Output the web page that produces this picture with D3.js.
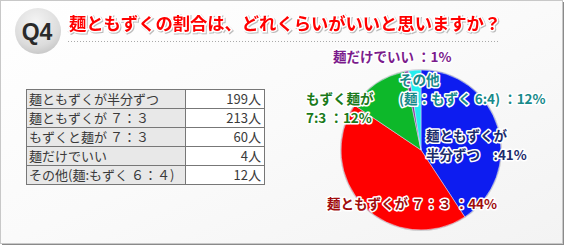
<!DOCTYPE html>
<html>
<head>
<meta charset="utf-8">
<script src="https://cdn.jsdelivr.net/npm/d3@7"></script>
<style>
  body { margin: 0; background: #fff; }
  svg { display: block; }
  .jp { font-family: "Noto Sans CJK JP", "Noto Sans", sans-serif; }
</style>
</head>
<body>
<div id="chart"></div>
<script>
// dati
const categories = ["麺ともずくが半分ずつ", "麺ともずくが ７：３", "もずくと麺が ７：３", "麺だけでいい", "その他(麺:もずく ６：４)"];
const counts = [199, 213, 60, 4, 12];
const countLabels = ["199人", "213人", "60人", "4人", "12人"];
const sliceColors = ["#0a1ff0", "#ff0000", "#08b82c", "#8a3a9c", "#26eeee"];
// etichette della torta, righe di testo come nel grafico
const pieLabels = [
  ["麺ともずくが", "半分ずつ　:41%"],
  ["麺ともずくが ７：３ ：44%"],
  ["もずく麺が", "7:3 ：12%"],
  ["麺だけでいい ：1%"],
  ["その他", "(麺：もずく 6:4) ：12%"]
];
const labelColors = ["#1c2c6c", "#a00d0d", "#1a7a1a", "#7b1b8c", "#178a8a"];
const labelPos = [[426, 141], [327, 209], [306, 104], [333, 62], [399, 85]];
const title = "麺ともずくの割合は、どれくらいがいいと思いますか？";

const W = 566, H = 247;
const svg = d3.select("#chart").append("svg").attr("width", W).attr("height", H);
const defs = svg.append("defs");

const bg = defs.append("linearGradient").attr("id", "bg")
  .attr("x1", "0").attr("y1", "0").attr("x2", "1").attr("y2", "1");
bg.append("stop").attr("offset", "0").attr("stop-color", "#ffffff");
bg.append("stop").attr("offset", "0.5").attr("stop-color", "#fafafa");
bg.append("stop").attr("offset", "1").attr("stop-color", "#f3f3f3");

const badge = defs.append("radialGradient").attr("id", "badge")
  .attr("cx", "0.45").attr("cy", "0.3").attr("r", "0.75");
badge.append("stop").attr("offset", "0").attr("stop-color", "#f4f4f4");
badge.append("stop").attr("offset", "0.7").attr("stop-color", "#dcdcdc");
badge.append("stop").attr("offset", "1").attr("stop-color", "#c4c4c4");

defs.append("filter").attr("id", "soft")
  .append("feGaussianBlur").attr("stdDeviation", 0.6);

// cornice
svg.append("rect").attr("x", 2).attr("y", 2).attr("width", 562).attr("height", 243)
  .attr("fill", "#8a8a8a");
svg.append("rect").attr("x", 0.5).attr("y", 0.5).attr("width", 562).attr("height", 243)
  .attr("fill", "url(#bg)").attr("stroke", "#c8c8c8");

// badge Q4
svg.append("circle").attr("cx", 38).attr("cy", 31).attr("r", 23).attr("fill", "url(#badge)");
svg.append("text").attr("x", 37).attr("y", 40).attr("text-anchor", "middle")
  .attr("font-family", "Arial, 'Liberation Sans', sans-serif").attr("font-weight", "bold")
  .attr("font-size", 23).attr("fill", "#2a2a2a").text("Q4");

// titolo
svg.append("text").attr("class", "jp").attr("x", 69).attr("y", 30)
  .attr("font-size", 17.3).attr("font-weight", "bold").attr("fill", "#ff0000")
  .attr("stroke", "#fff").attr("stroke-width", 3).attr("paint-order", "stroke")
  .style("filter", "drop-shadow(1px 1px 0.5px #bbb)")
  .text(title);

svg.append("line").attr("x1", 68).attr("x2", 500).attr("y1", 41.5).attr("y2", 41.5)
  .attr("stroke", "#aaa").attr("stroke-dasharray", "1,2");

// tabella
const tx0 = 26, tx1 = 185, tx2 = 264, ty0 = 89, rowH = 19;
const yRow = d3.scaleBand().domain(d3.range(categories.length))
  .range([ty0, ty0 + rowH * categories.length]);

const rows = svg.append("g").selectAll("g").data(categories).enter().append("g")
  .attr("transform", (d, i) => `translate(0,${yRow(i)})`);
rows.append("rect").attr("x", tx0 + 0.5).attr("y", 0.5)
  .attr("width", tx1 - tx0).attr("height", yRow.bandwidth())
  .attr("fill", "#e8e8e8").attr("stroke", "#777");
rows.append("rect").attr("x", tx1 + 0.5).attr("y", 0.5)
  .attr("width", tx2 - tx1).attr("height", yRow.bandwidth())
  .attr("fill", "#fff").attr("stroke", "#777");
rows.append("text").attr("class", "jp").attr("x", tx0 + 3).attr("y", 15)
  .attr("font-size", 13).attr("fill", "#3a3a3a").text(d => d);
rows.append("text").attr("class", "jp").attr("x", tx2 - 3).attr("y", 15)
  .attr("text-anchor", "end").attr("font-size", 13).attr("fill", "#3a3a3a")
  .text((d, i) => countLabels[i]);

// torta
const cx = 421, cy = 150, r = 80;
const pie = d3.pie().sort(null).value(d => d);
const arc = d3.arc().innerRadius(0).outerRadius(r);
const pg = svg.append("g").attr("transform", `translate(${cx},${cy})`);
pg.append("circle").attr("r", r + 1).attr("fill", "#ccc").attr("filter", "url(#soft)");
pg.selectAll("path").data(pie(counts)).enter().append("path")
  .attr("d", arc).attr("fill", (d, i) => sliceColors[i])
  .attr("stroke", "rgba(230,230,255,0.6)").attr("stroke-width", 0.8)
  .attr("filter", "url(#soft)");

// etichette
const lg = svg.append("g");
pieLabels.forEach((lines, i) => {
  const t = lg.append("text").attr("class", "jp")
    .attr("x", labelPos[i][0]).attr("y", labelPos[i][1])
    .attr("font-size", 13.5).attr("font-weight", "bold")
    .attr("fill", labelColors[i]).attr("stroke", "#fff").attr("stroke-width", 3)
    .attr("stroke-linejoin", "round").attr("paint-order", "stroke");
  lines.forEach((s, j) => {
    t.append("tspan").attr("x", labelPos[i][0]).attr("dy", j === 0 ? 0 : 19).text(s);
  });
});
</script>
</body>
</html>
